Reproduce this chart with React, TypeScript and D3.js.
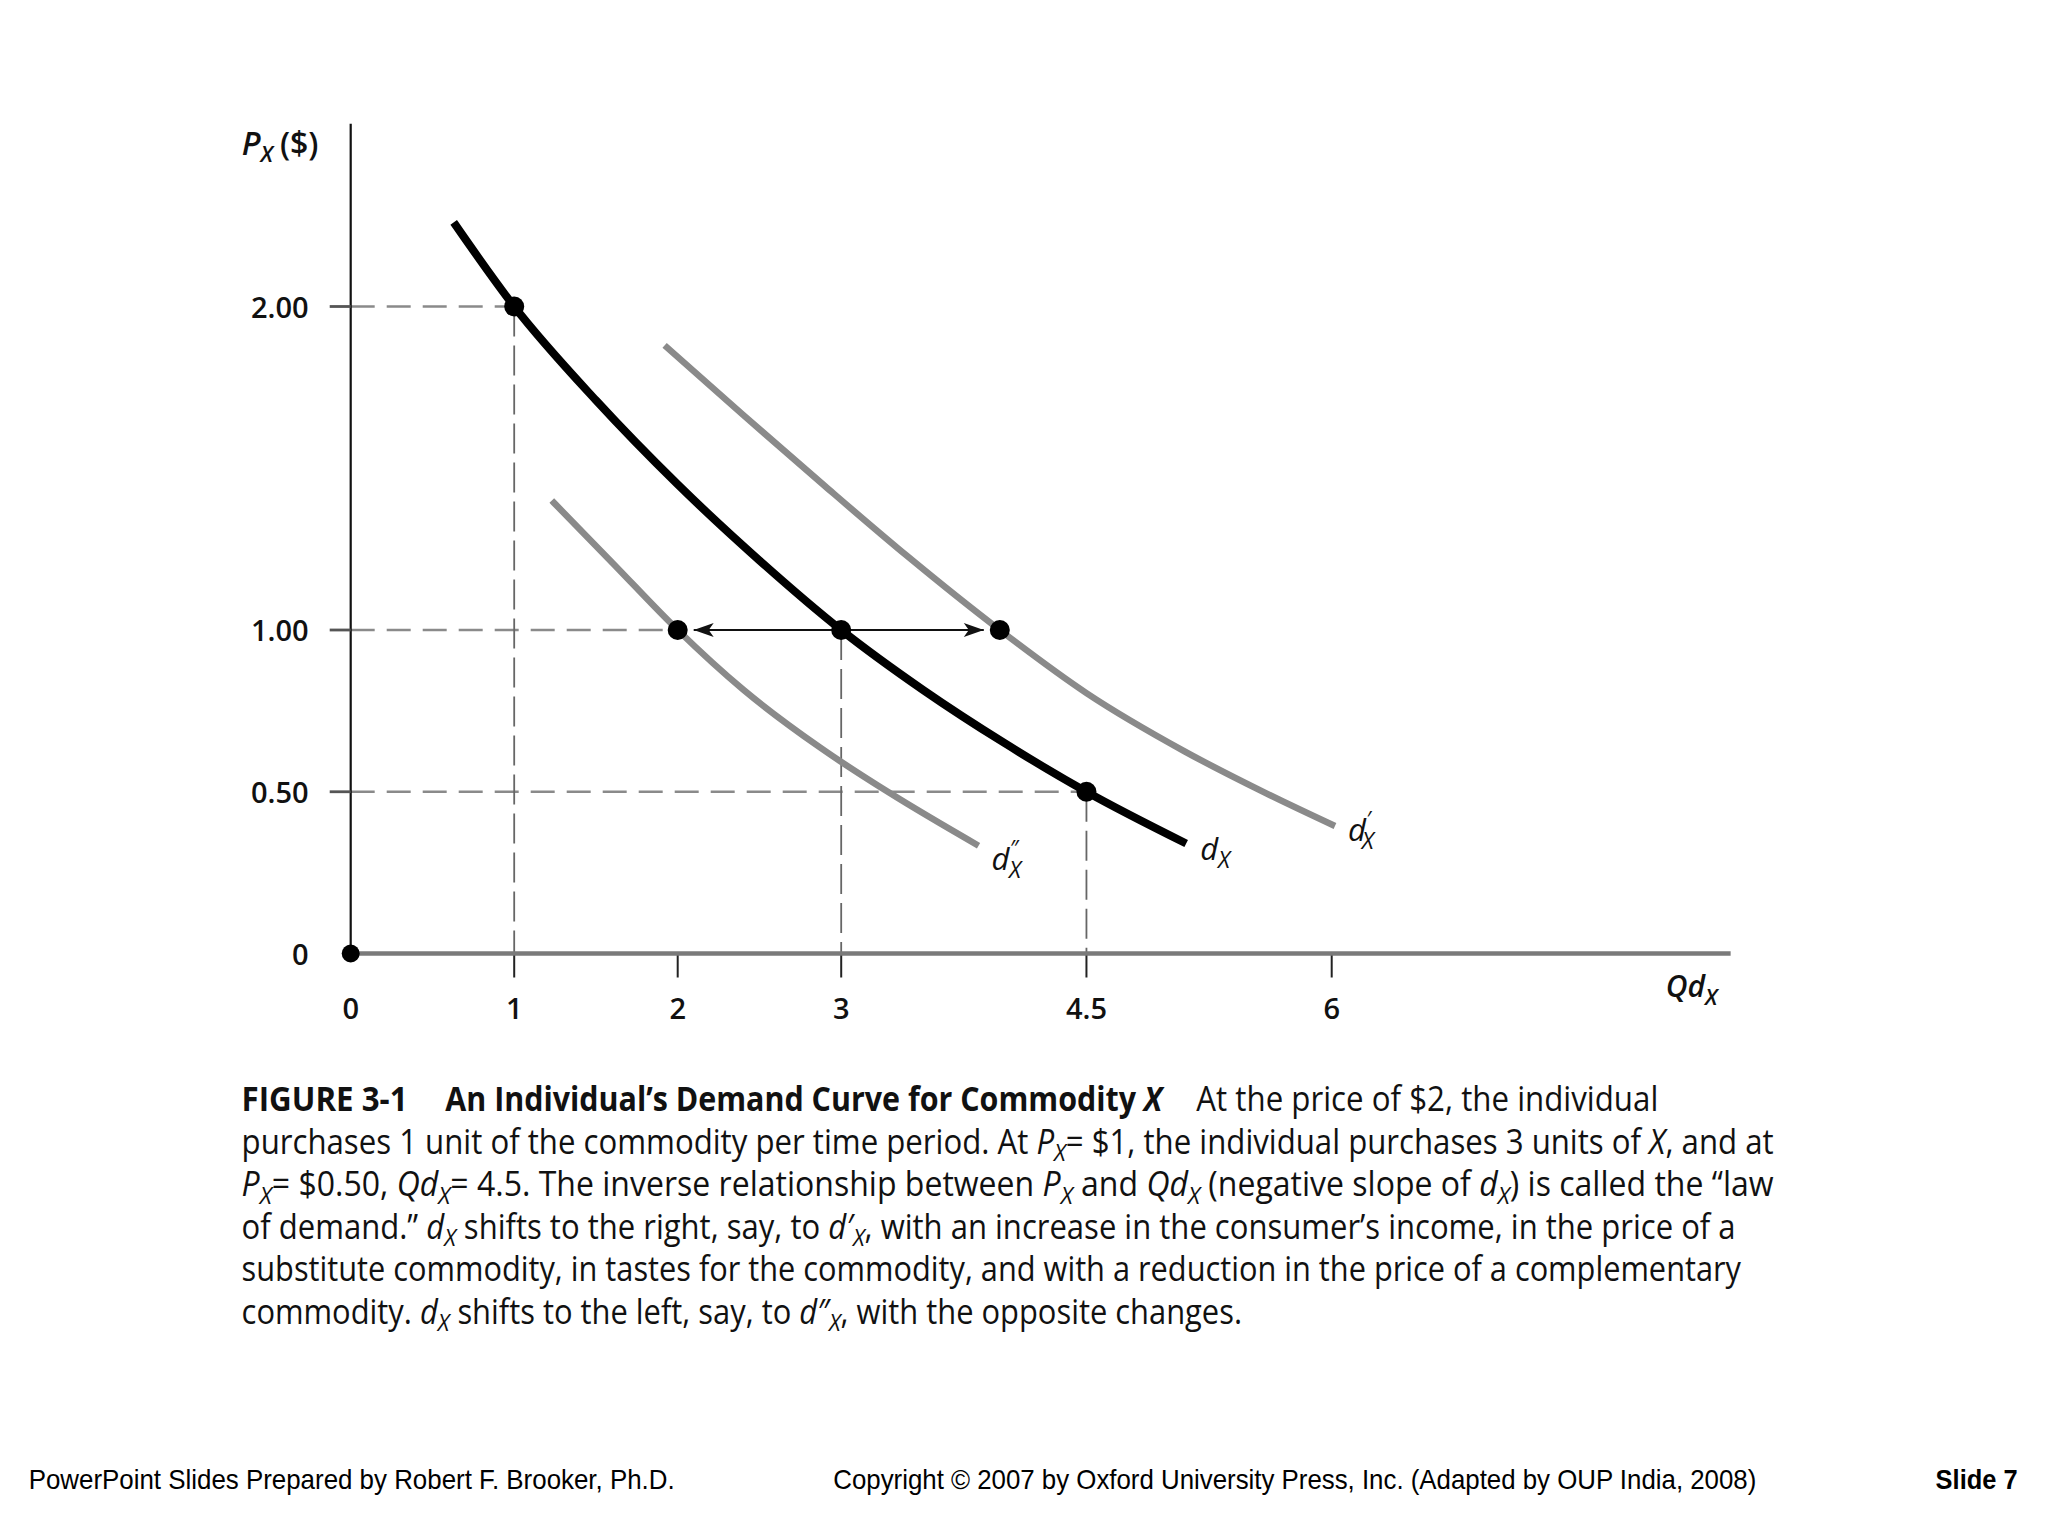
import React from 'react';
import * as d3 from 'd3';

// ---- data ----
const dxQ = [0.63, 1.0, 1.5, 2.0, 2.5, 3.0, 3.5, 4.0, 4.5, 5.11];
const dxP = [2.26, 2.0, 1.71, 1.45, 1.215, 1.0, 0.815, 0.65, 0.5, 0.34];

const dPrimeQ = [1.92, 2.4, 2.9, 3.4, 3.97, 4.5, 5.1, 5.6, 6.02];
const dPrimeP = [1.88, 1.665, 1.445, 1.23, 1.0, 0.805, 0.625, 0.495, 0.394];

const dDblQ = [1.23, 1.6, 2.0, 2.4, 2.87, 3.3, 3.84];
const dDblP = [1.4, 1.208, 1.0, 0.816, 0.637, 0.495, 0.333];

const pointQ = [1, 2, 3, 3.97, 4.5];
const pointP = [2, 1, 1, 1, 0.5];

const hGuideP = [2, 1, 0.5];
const hGuideQ = [1, 2, 4.5];
const vGuideQ = [1, 3, 4.5];
const vGuideP = [2, 1, 0.5];

const xTicks = [1, 2, 3, 4.5, 6];
const xTickLabels = ['0', '1', '2', '3', '4.5', '6'];
const xTickLabelPos = [0, 1, 2, 3, 4.5, 6];
const yTicks = [0.5, 1, 2];
const yTickLabels = ['0', '0.50', '1.00', '2.00'];
const yTickLabelPos = [0, 0.5, 1, 2];

const arrowFromQ = 2;
const arrowToQ = 3.97;
const arrowP = 1;

const AXIS_X_MAX = 8.44;
const AXIS_Y_MAX = 2.565;

type Seg = [string, string];
const captionLine1: Seg[][] = [
  [['FIGURE 3-1', 'b']],
  [['An Individual\u2019s Demand Curve for Commodity ', 'b'], ['X', 'bi']],
  [['At the price of $2, the individual', 'n']],
];
const captionLine1X = [241.6, 445.3, 1196.3];
const captionLine1W = [166, 717, 462];

const captionLines: Seg[][] = [
  [['purchases 1 unit of the commodity per time period. At ', 'n'], ['P', 'i'], ['X', 's'], ['= $1, the individual purchases 3 units of ', 'n'], ['X', 'i'], [', and at', 'n']],
  [['P', 'i'], ['X', 's'], ['= $0.50, ', 'n'], ['Qd', 'i'], ['X', 's'], ['= 4.5. The inverse relationship between ', 'n'], ['P', 'i'], ['X', 's'], [' and ', 'n'], ['Qd', 'i'], ['X', 's'], [' (negative slope of ', 'n'], ['d', 'i'], ['X', 's'], [') is called the \u201Claw', 'n']],
  [['of demand.\u201D ', 'n'], ['d', 'i'], ['X', 's'], [' shifts to the right, say, to ', 'n'], ['d\u2032', 'i'], ['X', 's'], [', with an increase in the consumer\u2019s income, in the price of a', 'n']],
  [['substitute commodity, in tastes for the commodity, and with a reduction in the price of a complementary', 'n']],
  [['commodity. ', 'n'], ['d', 'i'], ['X', 's'], [' shifts to the left, say, to ', 'n'], ['d\u2033', 'i'], ['X', 's'], [', with the opposite changes.', 'n']],
];
const captionWidths = [1532, 1532, 1494, 1499.4, 1000.4];

const footerLeft = 'PowerPoint Slides Prepared by Robert F. Brooker, Ph.D.';
const footerMid = 'Copyright \u00A9 2007 by Oxford University Press, Inc. (Adapted by OUP India, 2008)';
const footerRight = 'Slide 7';

// ---- layout ----
const W = 2048;
const H = 1536;
const CAP_FONT = "'Open Sans', 'Noto Sans', sans-serif";
const CHART_FONT = "'Open Sans', 'Noto Sans', sans-serif";
const FOOT_FONT = "'Liberation Sans Narrow', 'Liberation Sans', Arial, sans-serif";

const x = d3.scaleLinear().domain([0, 6]).range([350.7, 1331.7]);
const y = d3.scaleLinear().domain([0, 2]).range([953.5, 306.5]);

const line = d3
  .line<[number, number]>()
  .x((d) => x(d[0]))
  .y((d) => y(d[1]))
  .curve(d3.curveMonotoneX);

const zip = (a: number[], b: number[]) => a.map((v, i) => [v, b[i]] as [number, number]);

function renderSegs(segs: Seg[], fs: number) {
  const out: React.ReactNode[] = [];
  let shifted = false;
  segs.forEach(([t, k], i) => {
    let dy = 0;
    if (k === 's' && !shifted) {
      dy = fs * 0.22;
      shifted = true;
    } else if (k !== 's' && shifted) {
      dy = -fs * 0.22;
      shifted = false;
    }
    out.push(
      <tspan
        key={i}
        dy={dy || undefined}
        fontStyle={k === 'i' || k === 's' || k === 'bi' ? 'italic' : 'normal'}
        fontWeight={k === 'b' || k === 'bi' ? 'bold' : 'normal'}
        fontSize={k === 's' ? fs * 0.72 : fs}
      >
        {t}
      </tspan>
    );
  });
  return out;
}

function CurveLabel({ q, p, dx, dy, mark }: { q: number; p: number; dx: number; dy: number; mark: string }) {
  return (
    <text x={x(q) + dx} y={y(p) + dy} fontFamily={CHART_FONT} fontStyle="italic" fontSize={31} fill="#111">
      <tspan>d</tspan>
      {mark ? (
        <tspan dy={-14} fontSize={22}>
          {mark}
        </tspan>
      ) : null}
      <tspan dx={mark ? -9 : 0} dy={mark ? 22 : 8} fontSize={23}>
        X
      </tspan>
    </text>
  );
}

export default function App() {
  const capFs = 34;
  const capBase = 1111;
  const capStep = 42.6;
  const ax = x(0);
  const ay = y(0);

  return (
    <svg
      width={W}
      height={H}
      viewBox={`0 0 ${W} ${H}`}
      style={{ position: 'absolute', left: 0, top: 0, background: '#fff' }}
    >
      <rect x={0} y={0} width={W} height={H} fill="#fff" />

      {/* dashed guides */}
      {hGuideP.map((p, i) => (
        <line key={'h' + i} x1={ax} x2={x(hGuideQ[i])} y1={y(p)} y2={y(p)} stroke="#8a8a8a" strokeWidth={2.5} strokeDasharray="24 12" />
      ))}
      {vGuideQ.map((q, i) => (
        <line key={'v' + i} x1={x(q)} x2={x(q)} y1={y(vGuideP[i])} y2={ay} stroke="#666" strokeWidth={1.8} strokeDasharray="30 9" />
      ))}

      {/* axes */}
      <line x1={ax} x2={ax} y1={y(AXIS_Y_MAX)} y2={ay} stroke="#111" strokeWidth={2.2} />
      <line x1={ax} x2={x(AXIS_X_MAX)} y1={ay} y2={ay} stroke="#7a7a7a" strokeWidth={4.3} />

      {/* ticks */}
      {xTicks.map((q, i) => (
        <line key={'xt' + i} x1={x(q)} x2={x(q)} y1={ay + 2} y2={ay + 24} stroke="#222" strokeWidth={2} />
      ))}
      {yTicks.map((p, i) => (
        <line key={'yt' + i} x1={ax - 21} x2={ax} y1={y(p)} y2={y(p)} stroke="#555" strokeWidth={2.8} />
      ))}

      {/* tick labels */}
      {xTickLabelPos.map((q, i) => (
        <text key={'xl' + i} x={x(q)} y={ay + 65} textAnchor="middle" fontFamily={CHART_FONT} fontWeight={600} fontSize={29} fill="#111">
          {xTickLabels[i]}
        </text>
      ))}
      {yTickLabelPos.map((p, i) => (
        <text key={'yl' + i} x={ax - 42} y={y(p) + 11} textAnchor="end" fontFamily={CHART_FONT} fontWeight={600} fontSize={29} fill="#111">
          {yTickLabels[i]}
        </text>
      ))}

      {/* axis titles */}
      <text x={ax - 109} y={y(AXIS_Y_MAX) + 31} fontFamily={CHART_FONT} fontSize={32} fontWeight={600} fill="#111">
        <tspan fontStyle="italic">P</tspan>
        <tspan fontStyle="italic" fontSize={22} dy={7}>X</tspan>
        <tspan dy={-7} dx={7}>($)</tspan>
      </text>
      <text x={x(AXIS_X_MAX) - 65} y={ay + 43} fontFamily={CHART_FONT} fontSize={30} fontWeight={600} fontStyle="italic" fill="#111">
        <tspan>Qd</tspan>
        <tspan fontSize={22} dy={8}>X</tspan>
      </text>

      {/* curves */}
      <path d={line(zip(dDblQ, dDblP)) || ''} fill="none" stroke="#8a8a8a" strokeWidth={6.5} />
      <path d={line(zip(dPrimeQ, dPrimeP)) || ''} fill="none" stroke="#8a8a8a" strokeWidth={6.5} />
      <path d={line(zip(dxQ, dxP)) || ''} fill="none" stroke="#000" strokeWidth={8} />

      {/* double arrow */}
      <line x1={x(arrowFromQ) + 16} x2={x(arrowToQ) - 16} y1={y(arrowP)} y2={y(arrowP)} stroke="#111" strokeWidth={2} />
      <path d={`M${x(arrowFromQ) + 16},${y(arrowP)} l20,-7 l-5,7 l5,7 z`} fill="#111" />
      <path d={`M${x(arrowToQ) - 16},${y(arrowP)} l-20,-7 l5,7 l-5,7 z`} fill="#111" />

      {/* points */}
      {pointQ.map((q, i) => (
        <circle key={'pt' + i} cx={x(q)} cy={y(pointP[i])} r={10} fill="#000" />
      ))}
      <circle cx={ax} cy={ay} r={9} fill="#000" />

      {/* curve labels */}
      <CurveLabel q={dxQ[dxQ.length - 1]} p={dxP[dxP.length - 1]} dx={14} dy={16} mark="" />
      <CurveLabel q={dPrimeQ[dPrimeQ.length - 1]} p={dPrimeP[dPrimeP.length - 1]} dx={13} dy={15} mark={'\u2032'} />
      <CurveLabel q={dDblQ[dDblQ.length - 1]} p={dDblP[dDblP.length - 1]} dx={13} dy={24} mark={'\u2033'} />

      {/* caption */}
      {captionLine1.map((segs, i) => (
        <text
          key={'c1' + i}
          x={captionLine1X[i]}
          y={capBase}
          fontFamily={CAP_FONT}
          fontSize={capFs}
          fill="#111"
          textLength={captionLine1W[i]}
          lengthAdjust="spacingAndGlyphs"
        >
          {renderSegs(segs, capFs)}
        </text>
      ))}
      {captionLines.map((segs, i) => (
        <text
          key={'cl' + i}
          x={241.6}
          y={capBase + capStep * (i + 1)}
          fontFamily={CAP_FONT}
          fontSize={capFs}
          fill="#111"
          textLength={captionWidths[i]}
          lengthAdjust="spacingAndGlyphs"
        >
          {renderSegs(segs, capFs)}
        </text>
      ))}

      {/* footer */}
      <text x={28.7} y={1489} fontFamily={FOOT_FONT} fontSize={28} fill="#000" textLength={646} lengthAdjust="spacingAndGlyphs">
        {footerLeft}
      </text>
      <text x={833.3} y={1489} fontFamily={FOOT_FONT} fontSize={28} fill="#000" textLength={923} lengthAdjust="spacingAndGlyphs">
        {footerMid}
      </text>
      <text x={1935.6} y={1489} fontFamily={FOOT_FONT} fontSize={28} fontWeight="bold" fill="#000" textLength={82} lengthAdjust="spacingAndGlyphs">
        {footerRight}
      </text>
    </svg>
  );
}
